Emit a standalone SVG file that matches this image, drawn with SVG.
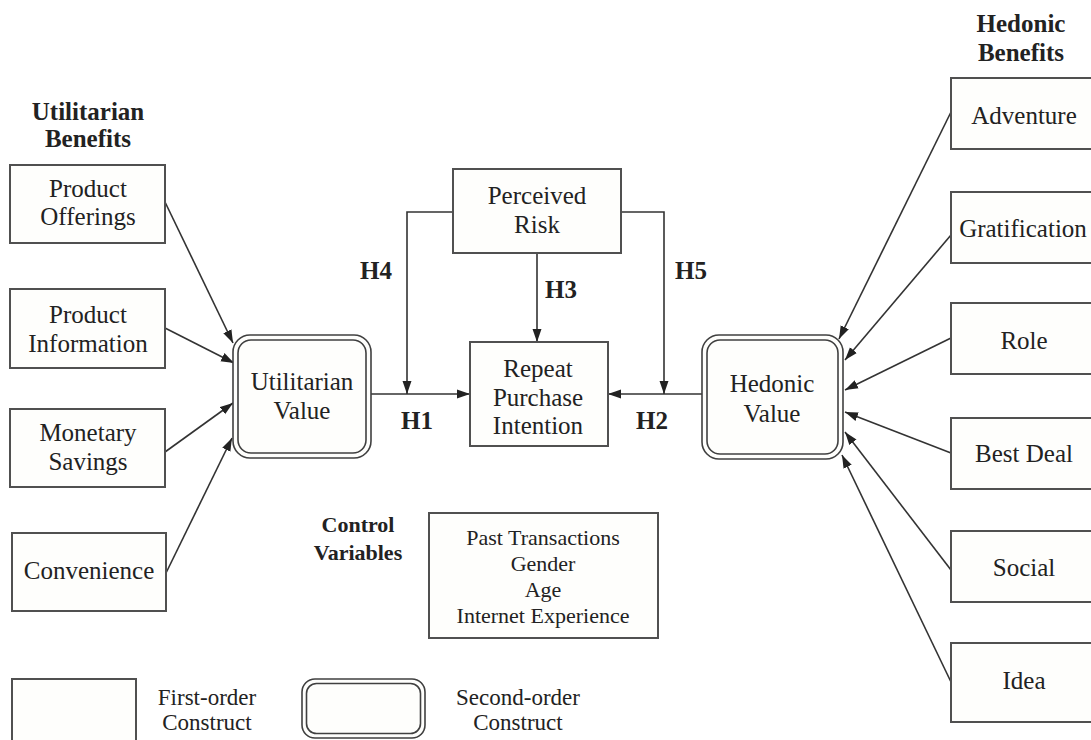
<svg xmlns="http://www.w3.org/2000/svg" width="1091" height="740" viewBox="0 0 1091 740">
<style>
text{font-family:"Liberation Serif","Times New Roman",serif;fill:#222;text-anchor:middle;dominant-baseline:central}
.n{font-size:25px}
.h{font-size:25px;font-weight:bold}
.hs{font-size:22px;font-weight:bold}
.s{font-size:22px}
.l{font-size:23px}
.box{fill:#fefefc;stroke:#505050;stroke-width:2}
.dbo{fill:#fefefc;stroke:#404040;stroke-width:1.6}
.dbi{fill:none;stroke:#404040;stroke-width:1.6}
.c{fill:none;stroke:#333;stroke-width:1.6}
</style>
<defs>
<marker id="ah" markerUnits="userSpaceOnUse" markerWidth="14" markerHeight="10" refX="13" refY="5" orient="auto">
<path d="M0,0.5 L13,5 L0,9.5 z" fill="#222"/>
</marker>
</defs>
<rect width="1091" height="740" fill="#fff"/>

<g id="headings">
<text class="h" x="88" y="111">Utilitarian</text>
<text class="h" x="88" y="138">Benefits</text>
<text class="h" x="1021" y="23">Hedonic</text>
<text class="h" x="1021" y="52">Benefits</text>
<text class="hs" x="358" y="524">Control</text>
<text class="hs" x="358" y="552">Variables</text>
</g>

<g id="connectors">
<line class="c" x1="165" y1="202" x2="233" y2="343" marker-end="url(#ah)"/>
<line class="c" x1="165" y1="328" x2="234" y2="363" marker-end="url(#ah)"/>
<line class="c" x1="165" y1="452" x2="233" y2="403" marker-end="url(#ah)"/>
<line class="c" x1="166" y1="573" x2="232" y2="438" marker-end="url(#ah)"/>
<line class="c" x1="951" y1="112" x2="839" y2="339" marker-end="url(#ah)"/>
<line class="c" x1="951" y1="235" x2="845" y2="360" marker-end="url(#ah)"/>
<line class="c" x1="951" y1="338" x2="845" y2="390" marker-end="url(#ah)"/>
<line class="c" x1="951" y1="453" x2="845" y2="412" marker-end="url(#ah)"/>
<line class="c" x1="951" y1="570" x2="845" y2="432" marker-end="url(#ah)"/>
<line class="c" x1="951" y1="682" x2="842" y2="455" marker-end="url(#ah)"/>
<line class="c" x1="371" y1="394" x2="470" y2="394" marker-end="url(#ah)"/>
<line class="c" x1="702" y1="394" x2="608" y2="394" marker-end="url(#ah)"/>
<line class="c" x1="537" y1="253" x2="537" y2="342" marker-end="url(#ah)"/>
<polyline class="c" points="453,212 407,212 407,394" marker-end="url(#ah)"/>
<polyline class="c" points="621,212 664,212 664,394" marker-end="url(#ah)"/>
<text class="h" x="376" y="270">H4</text>
<text class="h" x="561" y="289">H3</text>
<text class="h" x="691" y="270">H5</text>
<text class="h" x="417" y="420">H1</text>
<text class="h" x="652" y="420">H2</text>
</g>

<g id="product-offerings">
<rect class="box" x="10" y="165" width="155" height="78"/>
<text class="n" x="88" y="188">Product</text>
<text class="n" x="88" y="216">Offerings</text>
</g>
<g id="product-information">
<rect class="box" x="10" y="289" width="155" height="79"/>
<text class="n" x="88" y="314">Product</text>
<text class="n" x="88" y="343">Information</text>
</g>
<g id="monetary-savings">
<rect class="box" x="10" y="409" width="155" height="78"/>
<text class="n" x="88" y="432">Monetary</text>
<text class="n" x="88" y="461">Savings</text>
</g>
<g id="convenience">
<rect class="box" x="12" y="533" width="154" height="78"/>
<text class="n" x="89" y="570">Convenience</text>
</g>

<g id="utilitarian-value">
<rect class="dbo" x="233" y="335" width="138" height="123" rx="17"/>
<rect class="dbi" x="238" y="340" width="128" height="113" rx="13"/>
<text class="n" x="302" y="381">Utilitarian</text>
<text class="n" x="302" y="410">Value</text>
</g>

<g id="perceived-risk">
<rect class="box" x="453" y="169" width="168" height="84"/>
<text class="n" x="537" y="195">Perceived</text>
<text class="n" x="537" y="224">Risk</text>
</g>

<g id="repeat-purchase-intention">
<rect class="box" x="470" y="342" width="138" height="104"/>
<text class="n" x="538" y="368">Repeat</text>
<text class="n" x="538" y="397">Purchase</text>
<text class="n" x="538" y="425">Intention</text>
</g>

<g id="hedonic-value">
<rect class="dbo" x="702" y="335" width="141" height="124" rx="17"/>
<rect class="dbi" x="707" y="340" width="131" height="114" rx="13"/>
<text class="n" x="772" y="383">Hedonic</text>
<text class="n" x="772" y="413">Value</text>
</g>

<g id="adventure">
<rect class="box" x="951" y="78" width="150" height="71"/>
<text class="n" x="1024" y="115">Adventure</text>
</g>
<g id="gratification">
<rect class="box" x="951" y="192" width="150" height="71"/>
<text class="n" x="1023" y="228">Gratification</text>
</g>
<g id="role">
<rect class="box" x="951" y="303" width="150" height="71"/>
<text class="n" x="1024" y="340">Role</text>
</g>
<g id="best-deal">
<rect class="box" x="951" y="418" width="150" height="71"/>
<text class="n" x="1024" y="453">Best Deal</text>
</g>
<g id="social">
<rect class="box" x="951" y="531" width="150" height="71"/>
<text class="n" x="1024" y="567">Social</text>
</g>
<g id="idea">
<rect class="box" x="951" y="643" width="150" height="79"/>
<text class="n" x="1024" y="680">Idea</text>
</g>

<g id="control-variables">
<rect class="box" x="429" y="513" width="229" height="125"/>
<text class="s" x="543" y="537">Past Transactions</text>
<text class="s" x="543" y="563">Gender</text>
<text class="s" x="543" y="589">Age</text>
<text class="s" x="543" y="615">Internet Experience</text>
</g>

<g id="legend">
<rect class="box" x="12" y="679" width="124" height="70"/>
<text class="l" x="207" y="697">First-order</text>
<text class="l" x="207" y="722">Construct</text>
<rect class="dbo" x="302" y="679" width="123" height="59" rx="13"/>
<rect class="dbi" x="306.5" y="683.5" width="114" height="50" rx="10"/>
<text class="l" x="518" y="697">Second-order</text>
<text class="l" x="518" y="722">Construct</text>
</g>
</svg>
